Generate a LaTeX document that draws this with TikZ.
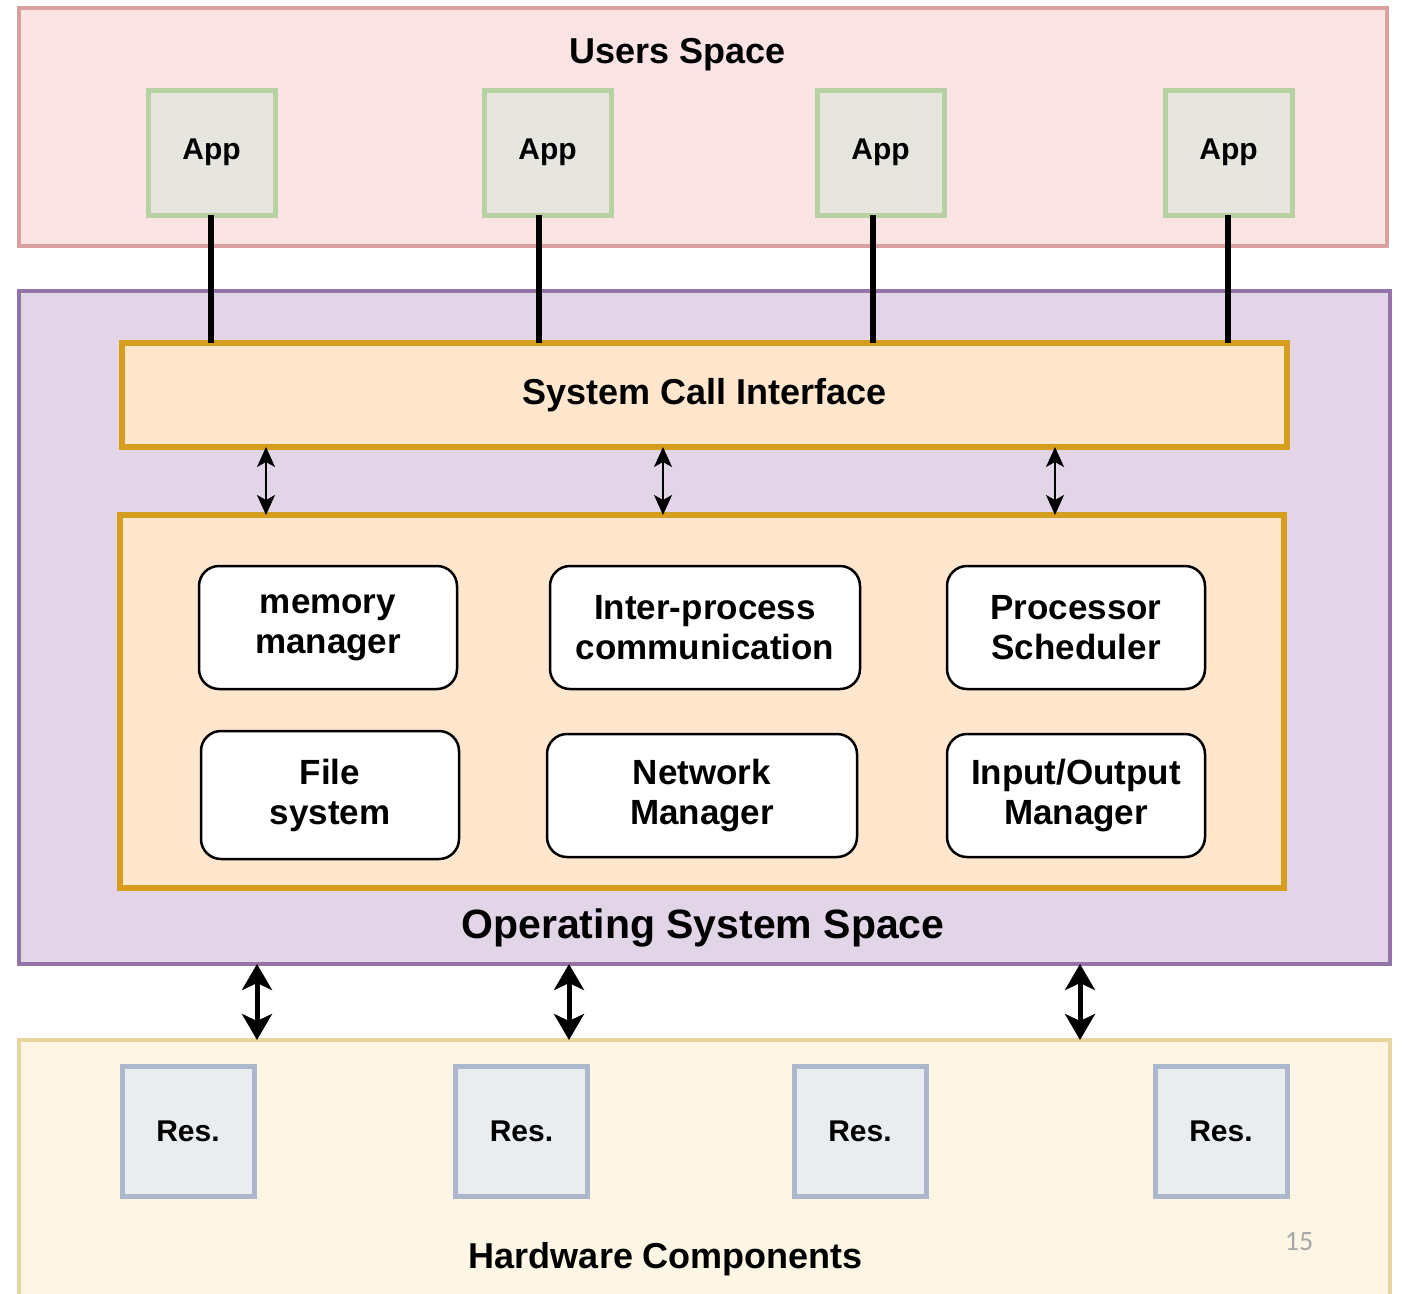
\documentclass[tikz,border=0pt]{standalone}
\usepackage{fontspec}
\setmainfont{Liberation Sans}
\newfontfamily\pagenumfont{Carlito}
\usetikzlibrary{arrows.meta}

\definecolor{userfill}{RGB}{249,227,227}
\definecolor{userline}{RGB}{217,160,160}
\definecolor{osfill}{RGB}{225,213,231}
\definecolor{osline}{RGB}{150,115,166}
\definecolor{kfill}{RGB}{255,230,204}
\definecolor{kline}{RGB}{214,158,30}
\definecolor{appfill}{RGB}{230,230,223}
\definecolor{appline}{RGB}{183,209,163}
\definecolor{hwfill}{RGB}{254,246,228}
\definecolor{hwline}{RGB}{232,212,158}
\definecolor{resfill}{RGB}{234,237,240}
\definecolor{resline}{RGB}{173,183,204}

\tikzset{
  layer/.style={draw, line width=4.5pt, inner sep=0pt, outer sep=0pt},
  kbox/.style={draw=kline, fill=kfill, line width=6pt, inner sep=0pt, outer sep=0pt},
  appbox/.style={draw=appline, fill=appfill, line width=5pt, inner sep=0pt, outer sep=0pt,
    minimum width=127pt, minimum height=125pt, font=\fontsize{30}{34}\selectfont\bfseries},
  resbox/.style={draw=resline, fill=resfill, line width=5pt, inner sep=0pt, outer sep=0pt,
    minimum width=132pt, minimum height=130pt, font=\fontsize{30}{34}\selectfont\bfseries},
  module/.style={draw=black, fill=white, line width=2.5pt, rounded corners=20pt, inner sep=0pt,
    outer sep=0pt, align=center, font=\fontsize{35}{40}\selectfont\bfseries},
  title/.style={anchor=base, inner sep=0pt, font=\fontsize{36}{40}\selectfont\bfseries},
  appline/.style={line width=6pt, draw=black},
  thinlink/.style={line width=2pt, {Stealth[length=20pt,width=18pt,inset=5pt]}-{Stealth[length=20pt,width=18pt,inset=5pt]}},
  thicklink/.style={line width=5pt, {Stealth[length=26pt,width=30pt,inset=7pt]}-{Stealth[length=26pt,width=30pt,inset=7pt]}},
}

\begin{document}
\begin{tikzpicture}[x=1pt, y=-1pt]
  \clip (0,0) rectangle (1405,1293);
  \fill[white] (0,0) rectangle (1405,1293);

  % user space layer
  \node[layer, draw=userline, fill=userfill, minimum width=1368pt, minimum height=238pt] (users) at (703,127) {};
  \node[title] (userstitle) at (678,63) {Users Space};
  \node[appbox] (app1) at (211.5,152.5) {App};
  \node[appbox] (app2) at (547.5,152.5) {App};
  \node[appbox] (app3) at (880.5,152.5) {App};
  \node[appbox] (app4) at (1228.5,152.5) {App};

  % operating system layer
  \node[layer, draw=osline, fill=osfill, minimum width=1371pt, minimum height=673pt] (os) at (704.5,627.5) {};
  \node[kbox, minimum width=1165pt, minimum height=104pt, font=\fontsize{36}{40}\selectfont\bfseries] (sci) at (704.5,395) {System Call Interface};
  \node[kbox, minimum width=1164pt, minimum height=373pt] (kernel) at (702,701.5) {};
  \node[module, minimum width=258pt, minimum height=123pt] (mem) at (328,627.5) {memory\\manager};
  \node[module, minimum width=310pt, minimum height=123pt] (ipc) at (705,627.5) {Inter-process\\communication};
  \node[module, minimum width=258pt, minimum height=123pt] (sched) at (1076,627.5) {Processor\\Scheduler};
  \node[module, minimum width=258pt, minimum height=128pt] (fs) at (330,795) {File\\system};
  \node[module, minimum width=310pt, minimum height=123pt] (net) at (702,795.5) {Network\\Manager};
  \node[module, minimum width=258pt, minimum height=123pt] (io) at (1076,795.5) {Input/Output\\Manager};
  \node[title, font=\fontsize{41}{46}\selectfont\bfseries] (ostitle) at (703,938) {Operating System Space};

  % hardware layer (runs past the lower edge)
  \node[layer, draw=hwline, fill=hwfill, minimum width=1371pt, minimum height=280pt] (hw) at (704.5,1180) {};
  \node[resbox] (res1) at (188,1131) {Res.};
  \node[resbox] (res2) at (521.5,1131) {Res.};
  \node[resbox] (res3) at (860,1131) {Res.};
  \node[resbox] (res4) at (1221,1131) {Res.};
  \node[title] (hwtitle) at (666,1268) {Hardware Components};
  \node[anchor=base, inner sep=0pt, text=black!35, font=\pagenumfont\fontsize{28}{30}\selectfont] (pagenum) at (1299,1250) {15};

  % applications to the system call interface
  \coordinate (a1) at (211,0);
  \coordinate (a2) at (539,0);
  \coordinate (a3) at (873,0);
  \coordinate (a4) at (1228,0);
  \draw[appline] (a1 |- app1.south) -- (a1 |- sci.north);
  \draw[appline] (a2 |- app2.south) -- (a2 |- sci.north);
  \draw[appline] (a3 |- app3.south) -- (a3 |- sci.north);
  \draw[appline] (a4 |- app4.south) -- (a4 |- sci.north);

  % system call interface to kernel services
  \coordinate (k1) at (266,0);
  \coordinate (k2) at (663,0);
  \coordinate (k3) at (1055,0);
  \draw[thinlink] (k1 |- sci.south) -- (k1 |- kernel.north);
  \draw[thinlink] (k2 |- sci.south) -- (k2 |- kernel.north);
  \draw[thinlink] (k3 |- sci.south) -- (k3 |- kernel.north);

  % operating system to hardware
  \coordinate (h1) at (257,0);
  \coordinate (h2) at (569,0);
  \coordinate (h3) at (1080,0);
  \draw[thicklink] (h1 |- os.south) -- (h1 |- hw.north);
  \draw[thicklink] (h2 |- os.south) -- (h2 |- hw.north);
  \draw[thicklink] (h3 |- os.south) -- (h3 |- hw.north);
\end{tikzpicture}
\end{document}
